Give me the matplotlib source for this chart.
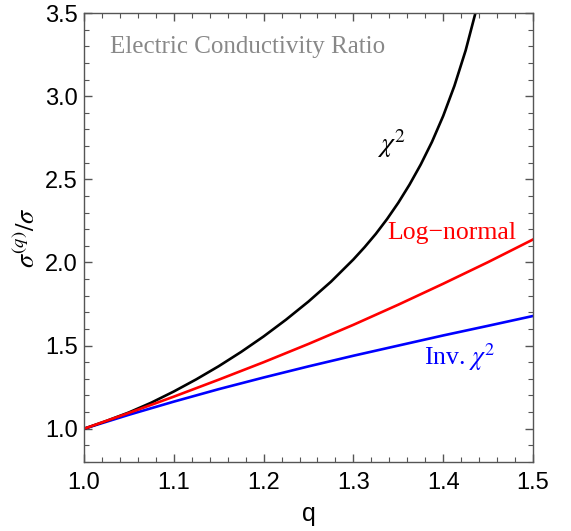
import numpy as np
import matplotlib
matplotlib.use('Agg')
import matplotlib.pyplot as plt
from matplotlib.ticker import MultipleLocator

plt.rcParams['mathtext.fontset'] = 'stix'

# values
q_chi2 = [1.000, 1.025, 1.050, 1.075, 1.100, 1.125, 1.150, 1.175, 1.200, 1.225,
          1.250, 1.275, 1.300, 1.3125, 1.325, 1.3375, 1.350, 1.3625, 1.375, 1.3875,
          1.400, 1.4125, 1.425, 1.4375, 1.450]
ratio_chi2 = [1.000, 1.047, 1.098, 1.157, 1.224, 1.297, 1.376, 1.462, 1.555, 1.656,
              1.765, 1.884, 2.018, 2.092, 2.172, 2.261, 2.359, 2.468, 2.589, 2.725,
              2.881, 3.062, 3.275, 3.533, 3.846]

q_grid = [1.00, 1.05, 1.10, 1.15, 1.20, 1.25, 1.30, 1.35, 1.40, 1.45, 1.50]
ratio_lognormal = [1.000, 1.095, 1.193, 1.295, 1.400, 1.510, 1.625, 1.746, 1.872, 2.002, 2.138]
ratio_invchi2 = [1.000, 1.084, 1.163, 1.238, 1.308, 1.375, 1.439, 1.500, 1.561, 1.619, 1.678]

x_ticks = [1.0, 1.1, 1.2, 1.3, 1.4, 1.5]
y_ticks = [1.0, 1.5, 2.0, 2.5, 3.0, 3.5]

fig = plt.figure(figsize=(5.71, 5.31), dpi=100)
ax = fig.add_axes([84/571, 1-462/531, 449/571, 449/531])

lw = 1.9
ax.plot(q_grid, ratio_invchi2, color='#0000ff', lw=lw)
ax.plot(q_chi2, ratio_chi2, color='black', lw=lw)
ax.plot(q_grid, ratio_lognormal, color='#ff0000', lw=lw)

ax.set_xlim(1.0, 1.5)
ax.set_ylim(0.8, 3.5)
ax.set_xticks(x_ticks)
ax.set_yticks(y_ticks)
ax.set_xticklabels(['%.1f' % t for t in x_ticks])
ax.set_yticklabels(['%.1f' % t for t in y_ticks])
ax.xaxis.set_minor_locator(MultipleLocator(0.02))
ax.yaxis.set_minor_locator(MultipleLocator(0.1))

frame = '#555555'
for s in ax.spines.values():
    s.set_color(frame)
    s.set_linewidth(1.0)
ax.tick_params(which='both', direction='in', top=True, right=True, color=frame,
               labelsize=17, labelcolor='black')
ax.tick_params(axis='x', which='major', pad=7)
ax.tick_params(axis='y', which='major', pad=4.5)
ax.tick_params(which='major', length=6, width=1.0)
ax.tick_params(which='minor', length=3.5, width=0.8)
for lab in ax.get_xticklabels() + ax.get_yticklabels():
    lab.set_family('Liberation Sans')

ax.set_xlabel('q', fontsize=18, family='Liberation Sans', labelpad=6)
ax.set_ylabel(r'$\sigma^{(q)}/\sigma$', fontsize=19, labelpad=3)

serif = 'Liberation Serif'
ax.text(0.058, 0.924, 'Electric Conductivity Ratio', transform=ax.transAxes,
        ha='left', va='center', fontsize=18, family=serif, color='#888888')
ax.text(1.342, 2.717, r'$\chi^2$', ha='center', va='center', fontsize=20,
        color='black')
ax.text(1.409, 2.18, 'Log\u2212normal', ha='center', va='center', fontsize=18.5,
        family=serif, color='#ff0000')
ax.text(1.418, 1.428, r'Inv. $\chi^2$', ha='center', va='center', fontsize=18.5,
        family=serif, color='#0000ff')

fig.savefig('out.png', dpi=100)
